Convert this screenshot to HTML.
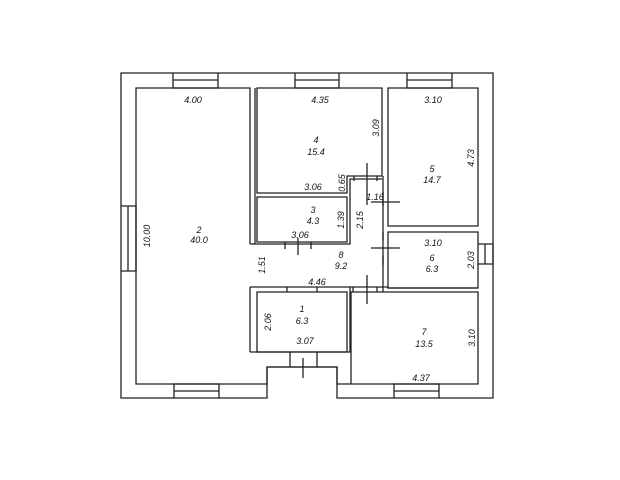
<!DOCTYPE html>
<html><head><meta charset="utf-8"><style>
html,body{margin:0;padding:0;background:#fff;width:620px;height:480px;overflow:hidden}
svg text{font-family:"Liberation Sans",sans-serif;font-size:9px;font-style:italic;fill:#111;text-anchor:middle}
</style></head><body>
<svg width="620" height="480" viewBox="0 0 620 480" xmlns="http://www.w3.org/2000/svg">
<g fill="none" stroke="#222" stroke-width="1.3">
<path d="M121 73 H493 V398 H337 V367 H267 V398 H121 Z"/>
<path d="M250 244 V88 H136 V384 H267 V367 H337 V384 H351"/>
<path d="M250 287 V352"/>
<path d="M257 88 H382 V176 H347 V193 H257 Z"/>
<path d="M257 197 H347 V242 H257 Z"/>
<path d="M255 88 V244 H350 V179 H382"/>
<path d="M250 244 H255"/>
<path d="M388 88 H478 V226 H388 Z"/>
<path d="M388 232 H478 V288 H388 Z"/>
<path d="M383 176 V292"/>
<path d="M250 287 H350 V352 H250"/>
<path d="M257 292 H347 V352 H257 Z"/>
<path d="M351 292 H478 V384 H351 Z"/>
<path d="M350 287 H388 V288 H478"/>
<path d="M173 73 V88 H218 V73 M173 80 H218"/>
<path d="M295 73 V88 H339 V73 M295 80 H339"/>
<path d="M407 73 V88 H452 V73 M407 80 H452"/>
<path d="M121 206 H136 V271 H121 M128 206 V271"/>
<path d="M478 244 H493 V264 H478 M485 244 V264"/>
<path d="M174 398 V384 H219 V398 M174 391 H219"/>
<path d="M394 398 V384 H439 V398 M394 391 H439"/>
<path d="M290 352 V367 M317 352 V367"/>
<path d="M285 242 V249 M311 242 V249"/>
<path d="M287 287 V292 M317 287 V292"/>
<path d="M354 176 V181 M377 176 V181"/>
<path d="M383 192 V206 M383 232 V240 M383 256 V265 M353 287 V292 M377 287 V292"/>
<path d="M367 163 V205 M371 202 H400 M371 248 H400 M298 238 V255 M367 275 V304 M303 358 V378"/>
</g>
<g>
<text x="193" y="103">4.00</text>
<text x="320" y="103">4.35</text>
<text x="433" y="103">3.10</text>
<text x="313" y="190">3.06</text>
<text x="300" y="238">3.06</text>
<text x="433" y="246">3.10</text>
<text x="317" y="285">4.46</text>
<text x="305" y="344">3.07</text>
<text x="421" y="381">4.37</text>
<text x="375" y="200">1.16</text>
<text x="199" y="233">2</text><text x="199" y="243">40.0</text>
<text x="316" y="143">4</text><text x="316" y="155">15.4</text>
<text x="432" y="172">5</text><text x="432" y="183">14.7</text>
<text x="313" y="213">3</text><text x="313" y="224">4.3</text>
<text x="341" y="258">8</text><text x="341" y="269">9.2</text>
<text x="432" y="261">6</text><text x="432" y="272">6.3</text>
<text x="302" y="312">1</text><text x="302" y="324">6.3</text>
<text x="424" y="335">7</text><text x="424" y="347">13.5</text>
<text transform="translate(150,236) rotate(-90)">10.00</text>
<text transform="translate(379,128) rotate(-90)">3.09</text>
<text transform="translate(345,183) rotate(-90)">0.65</text>
<text transform="translate(344,220) rotate(-90)">1.39</text>
<text transform="translate(363,220) rotate(-90)">2.15</text>
<text transform="translate(474,158) rotate(-90)">4.73</text>
<text transform="translate(474,260) rotate(-90)">2.03</text>
<text transform="translate(265,265) rotate(-90)">1.51</text>
<text transform="translate(271,322) rotate(-90)">2.06</text>
<text transform="translate(475,338) rotate(-90)">3.10</text>
</g>
</svg>
</body></html>
